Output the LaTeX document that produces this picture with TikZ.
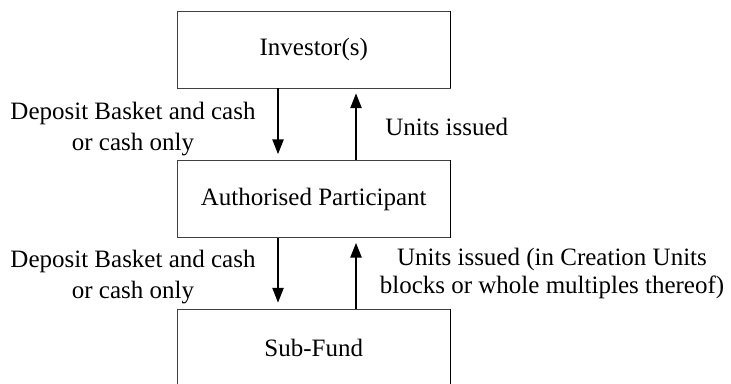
\documentclass[tikz,border=0pt]{standalone}
\usepackage{fontspec}
\setmainfont{Liberation Serif}
\usetikzlibrary{arrows.meta,positioning}

\tikzset{
  flowbox/.style={draw=black!75, line width=0.6pt, minimum width=204.4pt, minimum height=57.75pt, inner sep=0pt},
  flowarrow/.style={line width=0.9pt, -{Triangle[length=11pt,width=8.5pt]}},
  note/.style={align=center, inner sep=0pt}
}

\begin{document}
\begin{tikzpicture}[x=0.75pt,y=-0.75pt, font=\fontsize{18.75}{23}\selectfont]
    \useasboundingbox (0,0) rectangle (731,383);

    % boxes
    \node[flowbox] (inv) at (313.75,49.5) {Investor(s)};
    \node[flowbox] (ap) at (313.75,199) {Authorised Participant};
    \node[flowbox] (fund) at (313.75,347.5) {Sub-Fund};
    \foreach \b in {inv,ap,fund}
        \draw[line width=1.2pt] (\b.north east) -- (\b.south east);

    % flows between Investor(s) and AP
    \draw[flowarrow] ([xshift=-26.8pt]inv.south) -- ([xshift=-26.8pt,yshift=4.5pt]ap.north);
    \draw[flowarrow] ([xshift=31.7pt]ap.north) -- ([xshift=31.7pt,yshift=-3.75pt]inv.south);

    % flows between AP and Sub-Fund
    \draw[flowarrow] ([xshift=-26.8pt]ap.south) -- ([xshift=-26.8pt,yshift=4.5pt]fund.north);
    \draw[flowarrow] ([xshift=31.7pt]fund.north) -- ([xshift=31.7pt,yshift=-3.75pt]ap.south);

    % labels
    \node[note] (dep1) at (133,129) {Deposit Basket and cash\\or cash only};
    \node[note, anchor=west] (iss1) at (385,127) {Units issued};
    \node[note] (dep2) at (133,277) {Deposit Basket and cash\\or cash only};
    \node[note] (iss2) at (552,273) {Units issued (in Creation Units\\[-2pt]blocks or whole multiples thereof)};
\end{tikzpicture}
\end{document}
